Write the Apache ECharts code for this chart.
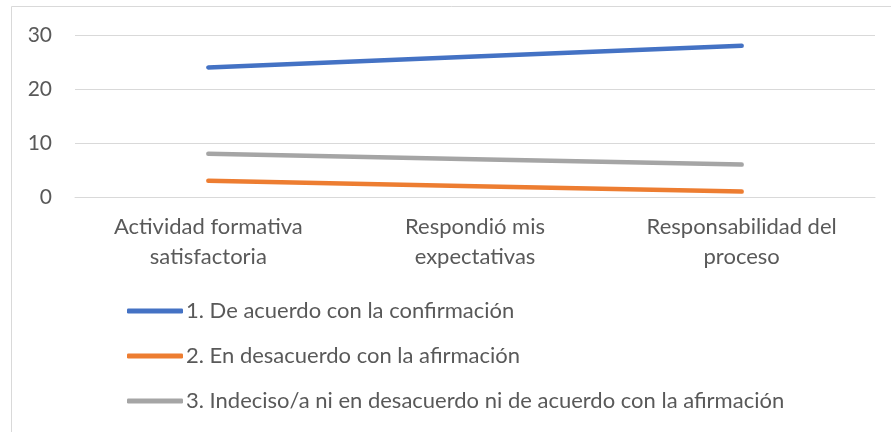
<!DOCTYPE html>
<html>
<head>
<meta charset="utf-8">
<script src="https://cdn.jsdelivr.net/npm/echarts@6/dist/echarts.min.js"></script>
<style>
  html, body { margin: 0; padding: 0; background: #fff; }
  #chart { width: 891px; height: 432px; }
</style>
</head>
<body>
<div id="chart"></div>
<script>
const categories = ['Actividad formativa\nsatisfactoria', 'Respondió mis\nexpectativas', 'Responsabilidad del\nproceso'];
const seriesNames = [
    '1. De acuerdo con la confirmación',
    '2. En desacuerdo con la afirmación',
    '3. Indeciso/a ni en desacuerdo ni de acuerdo con la afirmación'
];
const deAcuerdo = [24, 26, 28];
const enDesacuerdo = [3, 2, 1];
const indeciso = [8, 7, 6];
const colors = ['#4472C4', '#ED7D31', '#A5A5A5'];

const chart = echarts.init(document.getElementById('chart'));
const font = 'Lato, sans-serif';

function lineSeries(name, data, color) {
    return {
        name: name,
        type: 'line',
        data: data,
        symbol: 'none',
        color: color,
        lineStyle: { width: 4.5, color: color, cap: 'round' },
        itemStyle: { color: color }
    };
}

let option = {
    animation: false,
    textStyle: { fontFamily: font },
    graphic: [
        {
            type: 'rect',
            shape: { x: 11.5, y: 6.5, width: 900, height: 450 },
            style: { fill: 'none', stroke: '#d9d9d9', lineWidth: 1 },
            silent: true
        }
    ],
    grid: { left: 75, right: 16, top: 35, bottom: 235, containLabel: false },
    xAxis: {
        type: 'category',
        data: categories,
        boundaryGap: true,
        axisLine: { show: true, lineStyle: { color: '#d9d9d9', width: 1 } },
        axisTick: { show: false },
        axisLabel: {
            color: '#595959',
            fontSize: 22,
            lineHeight: 30,
            margin: 15,
            fontFamily: font,
            interval: 0
        }
    },
    yAxis: {
        type: 'value',
        min: 0,
        max: 30,
        interval: 10,
        axisLine: { show: false },
        axisTick: { show: false },
        splitLine: { lineStyle: { color: '#d9d9d9', width: 1 } },
        axisLabel: { color: '#595959', fontSize: 21, margin: 23, fontFamily: font }
    },
    legend: {
        orient: 'vertical',
        left: 127,
        top: 299,
        padding: 0,
        icon: 'roundRect',
        itemWidth: 56,
        itemHeight: 5,
        itemGap: 21,
        data: seriesNames,
        textStyle: { color: '#595959', fontSize: 22, lineHeight: 24, fontFamily: font, padding: [0, 0, 0, -2] }
    },
    series: [
        lineSeries(seriesNames[0], deAcuerdo, colors[0]),
        lineSeries(seriesNames[1], enDesacuerdo, colors[1]),
        lineSeries(seriesNames[2], indeciso, colors[2])
    ]
};
chart.setOption(option);
</script>
</body>
</html>
